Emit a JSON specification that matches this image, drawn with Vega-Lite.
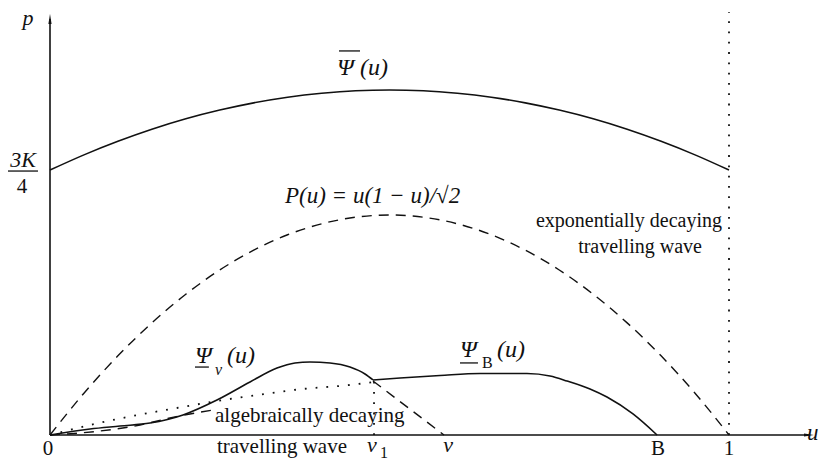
{
  "$schema": "https://vega.github.io/schema/vega-lite/v6.json",
  "width": 819,
  "height": 462,
  "padding": 0,
  "autosize": {"type": "none"},
  "background": "white",
  "config": {"view": {"stroke": null}},
  "datasets": {
    "upperBound": [
      {"u": 0.00, "p": 0.2129}, {"u": 0.05, "p": 0.2251}, {"u": 0.10, "p": 0.2360},
      {"u": 0.15, "p": 0.2457}, {"u": 0.20, "p": 0.2541}, {"u": 0.25, "p": 0.2611},
      {"u": 0.30, "p": 0.2669}, {"u": 0.35, "p": 0.2714}, {"u": 0.40, "p": 0.2746},
      {"u": 0.45, "p": 0.2766}, {"u": 0.50, "p": 0.2772}, {"u": 0.55, "p": 0.2766},
      {"u": 0.60, "p": 0.2746}, {"u": 0.65, "p": 0.2714}, {"u": 0.70, "p": 0.2669},
      {"u": 0.75, "p": 0.2611}, {"u": 0.80, "p": 0.2541}, {"u": 0.85, "p": 0.2457},
      {"u": 0.90, "p": 0.2360}, {"u": 0.95, "p": 0.2251}, {"u": 1.00, "p": 0.2129}
    ],
    "exponentialWave": [
      {"u": 0.00, "p": 0.0000}, {"u": 0.05, "p": 0.0336}, {"u": 0.10, "p": 0.0636},
      {"u": 0.15, "p": 0.0901}, {"u": 0.20, "p": 0.1131}, {"u": 0.25, "p": 0.1326},
      {"u": 0.30, "p": 0.1485}, {"u": 0.35, "p": 0.1609}, {"u": 0.40, "p": 0.1697},
      {"u": 0.45, "p": 0.1750}, {"u": 0.50, "p": 0.1768}, {"u": 0.55, "p": 0.1750},
      {"u": 0.60, "p": 0.1697}, {"u": 0.65, "p": 0.1609}, {"u": 0.70, "p": 0.1485},
      {"u": 0.75, "p": 0.1326}, {"u": 0.80, "p": 0.1131}, {"u": 0.85, "p": 0.0901},
      {"u": 0.90, "p": 0.0636}, {"u": 0.95, "p": 0.0336}, {"u": 1.00, "p": 0.0000}
    ],
    "psiV": [
      {"u": 0.0000, "p": 0.0000}, {"u": 0.0589, "p": 0.0048}, {"u": 0.1031, "p": 0.0072},
      {"u": 0.1473, "p": 0.0096}, {"u": 0.1959, "p": 0.0161}, {"u": 0.2459, "p": 0.0281},
      {"u": 0.2946, "p": 0.0426}, {"u": 0.3343, "p": 0.0538}, {"u": 0.3608, "p": 0.0579},
      {"u": 0.3829, "p": 0.0587}, {"u": 0.4124, "p": 0.0579}, {"u": 0.4418, "p": 0.0546},
      {"u": 0.4639, "p": 0.0490}, {"u": 0.4757, "p": 0.0442}
    ],
    "psiB": [
      {"u": 0.4757, "p": 0.0442}, {"u": 0.5155, "p": 0.0458}, {"u": 0.5744, "p": 0.0478},
      {"u": 0.6333, "p": 0.0494}, {"u": 0.7025, "p": 0.0494}, {"u": 0.7364, "p": 0.0474},
      {"u": 0.7614, "p": 0.0434}, {"u": 0.7953, "p": 0.0370}, {"u": 0.8203, "p": 0.0305},
      {"u": 0.8586, "p": 0.0169}, {"u": 0.8940, "p": 0.0000}
    ],
    "algebraicWave": [
      {"piece": "rise", "u": 0.0000, "p": 0.0000}, {"piece": "rise", "u": 0.0736, "p": 0.0032},
      {"piece": "rise", "u": 0.1325, "p": 0.0080}, {"piece": "rise", "u": 0.1767, "p": 0.0137},
      {"piece": "rise", "u": 0.2401, "p": 0.0201},
      {"piece": "fall", "u": 0.4757, "p": 0.0434}, {"piece": "fall", "u": 0.5803, "p": 0.0000}
    ],
    "chord": [
      {"u": 0.0000, "p": 0.0000}, {"u": 0.0589, "p": 0.0080}, {"u": 0.1222, "p": 0.0153},
      {"u": 0.1870, "p": 0.0217}, {"u": 0.2459, "p": 0.0273}, {"u": 0.3049, "p": 0.0321},
      {"u": 0.3726, "p": 0.0370}, {"u": 0.4418, "p": 0.0402}, {"u": 0.4772, "p": 0.0426}
    ],
    "guides": [
      {"u": 0.4772, "p": 0.0000, "u2": 0.4772, "p2": 0.0426},
      {"u": 1.0000, "p": 0.0000, "u2": 1.0000, "p2": 0.3399}
    ],
    "axes": [
      {"u": 0.0000, "p": 0.0000, "u2": 1.1178, "p2": 0.0000},
      {"u": 0.0000, "p": 0.0000, "u2": 0.0000, "p2": 0.3343}
    ],
    "bars": [
      {"u": 0.4256, "p": 0.3086, "u2": 0.4566, "p2": 0.3086},
      {"u": 0.2135, "p": 0.0546, "u2": 0.2340, "p2": 0.0546},
      {"u": 0.6038, "p": 0.0579, "u2": 0.6303, "p2": 0.0579},
      {"u": -0.0619, "p": 0.2121, "u2": -0.0177, "p2": 0.2121}
    ],
    "arrowUp": [{"u": 0.0, "p": 0.3343}],
    "arrowRight": [{"u": 1.1178, "p": 0.0}],
    "italicCentered": [
      {"u": -0.0324, "p": 0.3295, "t": "p"},
      {"u": -0.0398, "p": 0.2154, "t": "3K"},
      {"u": 0.4742, "p": -0.0137, "t": "v"},
      {"u": 0.5862, "p": -0.0137, "t": "v"}
    ],
    "psiLabels": [
      {"u": 0.4227, "p": 0.2893, "t": "Ψ"},
      {"u": 0.4566, "p": 0.2893, "t": "(u)"},
      {"u": 0.2135, "p": 0.0579, "t": "Ψ"},
      {"u": 0.2607, "p": 0.0579, "t": "(u)"},
      {"u": 0.6038, "p": 0.0627, "t": "Ψ"},
      {"u": 0.6583, "p": 0.0627, "t": "(u)"}
    ],
    "italicLeft": [
      {"u": 0.3461, "p": 0.1864, "t": "P(u) = u(1 − u)/√2"},
      {"u": 1.1150, "p": -0.0040, "t": "u"}
    ],
    "romanCentered": [
      {"u": -0.0029, "p": -0.0161, "t": "0"},
      {"u": 0.8954, "p": -0.0161, "t": "B"},
      {"u": 1.0000, "p": -0.0161, "t": "1"},
      {"u": -0.0412, "p": 0.1945, "t": "4"}
    ],
    "romanLeft": [
      {"u": 0.2430, "p": 0.0104, "t": "algebraically decaying"},
      {"u": 0.2459, "p": -0.0145, "t": "travelling wave"}
    ],
    "romanRight": [
      {"u": 0.9897, "p": 0.1671, "t": "exponentially decaying"},
      {"u": 0.9602, "p": 0.1462, "t": "travelling wave"}
    ],
    "italicSub": [
      {"u": 0.2430, "p": 0.0482, "t": "v"}
    ],
    "romanSub": [
      {"u": 0.6362, "p": 0.0538, "t": "B"},
      {"u": 0.4860, "p": -0.0185, "t": "1"}
    ]
  },
  "encoding": {
    "x": {"field": "u", "type": "quantitative", "axis": null,
          "scale": {"domain": [-0.073638, 1.132548], "nice": false, "zero": false}},
    "y": {"field": "p", "type": "quantitative", "axis": null,
          "scale": {"domain": [-0.021695, 0.349538], "nice": false, "zero": false}}
  },
  "layer": [
    {"data": {"name": "axes"},
     "mark": {"type": "rule", "color": "#111", "strokeWidth": 1.6},
     "encoding": {"x2": {"field": "u2"}, "y2": {"field": "p2"}}},
    {"data": {"name": "arrowUp"},
     "mark": {"type": "point", "shape": "M0,-1L0.32,1L-0.32,1Z", "size": 100, "filled": true, "color": "#111", "opacity": 1},
     "encoding": {}},
    {"data": {"name": "arrowRight"},
     "mark": {"type": "point", "shape": "M1,0L-1,0.32L-1,-0.32Z", "size": 100, "filled": true, "color": "#111", "opacity": 1},
     "encoding": {}},
    {"data": {"name": "guides"},
     "mark": {"type": "rule", "color": "#111", "strokeWidth": 1.8, "strokeDash": [1.8, 8.5]},
     "encoding": {"x2": {"field": "u2"}, "y2": {"field": "p2"}}},
    {"data": {"name": "upperBound"},
     "mark": {"type": "line", "color": "#111", "strokeWidth": 1.6, "interpolate": "monotone"},
     "encoding": {"order": {"field": "u"}}},
    {"data": {"name": "exponentialWave"},
     "mark": {"type": "line", "color": "#111", "strokeWidth": 1.4, "interpolate": "monotone", "strokeDash": [10, 7]},
     "encoding": {"order": {"field": "u"}}},
    {"data": {"name": "psiV"},
     "mark": {"type": "line", "color": "#111", "strokeWidth": 1.6, "interpolate": "monotone"},
     "encoding": {"order": {"field": "u"}}},
    {"data": {"name": "psiB"},
     "mark": {"type": "line", "color": "#111", "strokeWidth": 1.6, "interpolate": "monotone"},
     "encoding": {"order": {"field": "u"}}},
    {"data": {"name": "algebraicWave"},
     "mark": {"type": "line", "color": "#111", "strokeWidth": 1.4, "interpolate": "monotone", "strokeDash": [10, 7]},
     "encoding": {"detail": {"field": "piece"}, "order": {"field": "u"}}},
    {"data": {"name": "chord"},
     "mark": {"type": "line", "color": "#111", "strokeWidth": 1.8, "interpolate": "monotone", "strokeDash": [1.8, 9]},
     "encoding": {"order": {"field": "u"}}},
    {"data": {"name": "bars"},
     "mark": {"type": "rule", "color": "#111", "strokeWidth": 1.3},
     "encoding": {"x2": {"field": "u2"}, "y2": {"field": "p2"}}},
    {"data": {"name": "italicCentered"},
     "mark": {"type": "text", "font": "Liberation Serif", "fontStyle": "italic", "fontSize": 22, "align": "center", "baseline": "alphabetic", "color": "#111"},
     "encoding": {"text": {"field": "t"}}},
    {"data": {"name": "psiLabels"},
     "mark": {"type": "text", "font": "Liberation Serif", "fontStyle": "italic", "fontSize": 24, "align": "left", "baseline": "alphabetic", "color": "#111"},
     "encoding": {"text": {"field": "t"}}},
    {"data": {"name": "italicLeft"},
     "mark": {"type": "text", "font": "Liberation Serif", "fontStyle": "italic", "fontSize": 23, "align": "left", "baseline": "alphabetic", "color": "#111"},
     "encoding": {"text": {"field": "t"}}},
    {"data": {"name": "romanCentered"},
     "mark": {"type": "text", "font": "Liberation Serif", "fontSize": 21, "align": "center", "baseline": "alphabetic", "color": "#111"},
     "encoding": {"text": {"field": "t"}}},
    {"data": {"name": "romanLeft"},
     "mark": {"type": "text", "font": "Liberation Serif", "fontSize": 21, "align": "left", "baseline": "alphabetic", "color": "#111"},
     "encoding": {"text": {"field": "t"}}},
    {"data": {"name": "romanRight"},
     "mark": {"type": "text", "font": "Liberation Serif", "fontSize": 20, "align": "right", "baseline": "alphabetic", "color": "#111"},
     "encoding": {"text": {"field": "t"}}},
    {"data": {"name": "italicSub"},
     "mark": {"type": "text", "font": "Liberation Serif", "fontStyle": "italic", "fontSize": 16, "align": "left", "baseline": "alphabetic", "color": "#111"},
     "encoding": {"text": {"field": "t"}}},
    {"data": {"name": "romanSub"},
     "mark": {"type": "text", "font": "Liberation Serif", "fontSize": 16, "align": "left", "baseline": "alphabetic", "color": "#111"},
     "encoding": {"text": {"field": "t"}}}
  ]
}
